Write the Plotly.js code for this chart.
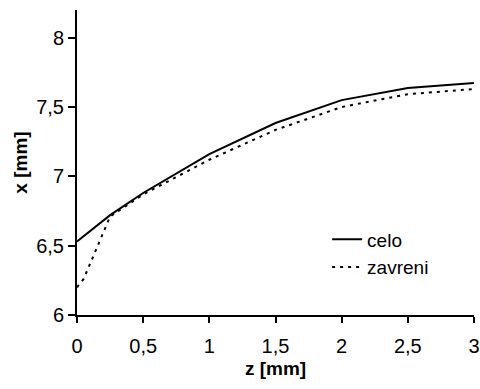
<!DOCTYPE html>
<html><head><meta charset="utf-8">
<script src="https://cdn.plot.ly/plotly-3.0.1.min.js"></script>
<style>html,body{margin:0;padding:0;background:#fff}</style>
</head><body><div id="chart" style="width:480px;height:389px"></div>
<script>
var celoZ = [0, 0.25, 0.5, 1, 1.5, 2, 2.5, 3];
var celoX = [6.53, 6.72, 6.88, 7.16, 7.385, 7.55, 7.637, 7.673];
var zavZ = [0, 0.05, 0.25, 0.5, 1, 1.5, 2, 2.5, 3];
var zavX = [6.2, 6.26, 6.71, 6.87, 7.12, 7.335, 7.5, 7.593, 7.63];
var xTicks = [0, 0.5, 1, 1.5, 2, 2.5, 3];
var yTicks = [6, 6.5, 7, 7.5, 8];
var fnt = {family: 'Liberation Sans, Arial, sans-serif', size: 20, color: '#000'};
var tfnt = {family: 'Liberation Sans, Arial, sans-serif', size: 19, color: '#000'};
var data = [
  {x: celoZ, y: celoX, name: 'celo', mode: 'lines', line: {color: '#000', width: 2}},
  {x: zavZ, y: zavX, name: 'zavreni', mode: 'lines', line: {color: '#000', width: 2, dash: '3px,5px'}}
];
var layout = {
  width: 480, height: 389,
  margin: {l: 77, r: 6, t: 10, b: 74},
  paper_bgcolor: '#fff', plot_bgcolor: '#fff',
  separators: ', ',
  font: fnt,
  showlegend: true,
  legend: {x: 0.63, y: 0.31, xanchor: 'left', yanchor: 'top', bgcolor: 'rgba(0,0,0,0)', font: tfnt, tracegroupgap: 0},
  xaxis: {range: [0, 3], tickvals: xTicks, showgrid: false, zeroline: false, showline: true, linecolor: '#000', linewidth: 2,
    ticks: 'outside', ticklen: 6, tickwidth: 2, tickcolor: '#000', tickfont: fnt, ticklabelstandoff: 6,
    title: {text: '<b>z [mm]</b>', font: tfnt, standoff: 6}},
  yaxis: {range: [6, 8.2], tickvals: yTicks, showgrid: false, zeroline: false, showline: true, linecolor: '#000', linewidth: 2,
    ticks: 'outside', ticklen: 7, tickwidth: 2, tickcolor: '#000', tickfont: fnt, ticklabelstandoff: 0,
    title: {text: '<b>x [mm]</b>', font: tfnt, standoff: 4}}
};
Plotly.newPlot('chart', data, layout, {displayModeBar: false, staticPlot: true});
</script></body></html>
